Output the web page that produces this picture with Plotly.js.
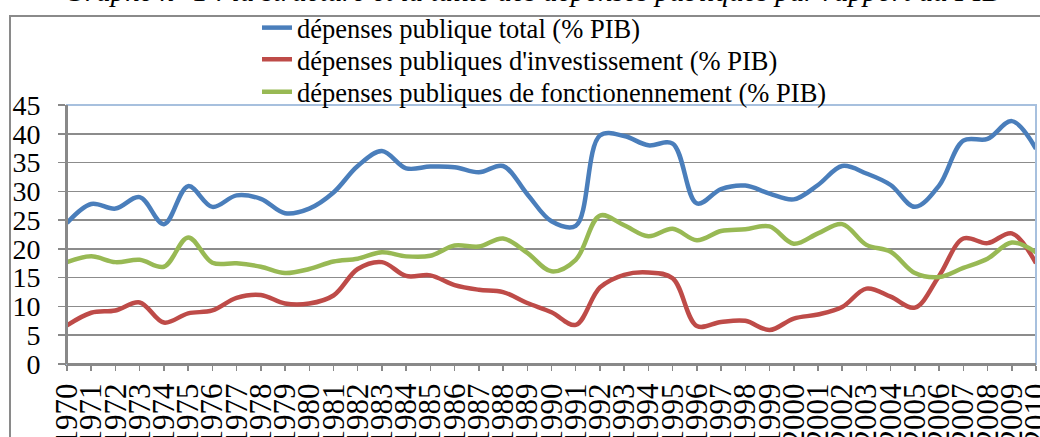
<!DOCTYPE html>
<html>
<head>
<meta charset="utf-8">
<script src="https://cdn.plot.ly/plotly-3.0.1.min.js"></script>
<style>
  html, body { margin: 0; padding: 0; background: #ffffff; }
  #chart { width: 1040px; height: 437px; }
</style>
</head>
<body>
<div id="chart"></div>
<script>
const years = [1970,1971,1972,1973,1974,1975,1976,1977,1978,1979,1980,1981,1982,1983,1984,1985,1986,1987,1988,1989,1990,1991,1992,1993,1994,1995,1996,1997,1998,1999,2000,2001,2002,2003,2004,2005,2006,2007,2008,2009,2010];

const depTotal = [24.5,27.8,27.0,29.0,24.3,30.9,27.3,29.3,28.7,26.2,27.0,29.8,34.4,37.0,34.0,34.3,34.2,33.3,34.4,29.5,24.8,24.0,39.7,39.6,38.0,38.3,27.9,30.4,31.0,29.6,28.6,31.1,34.4,33.1,31.1,27.3,31.0,38.8,39.1,42.2,37.4];

const depInvest = [6.7,8.9,9.3,10.7,7.2,8.8,9.3,11.5,12.0,10.5,10.5,11.9,16.5,17.7,15.3,15.4,13.7,12.9,12.5,10.6,9.0,6.8,13.3,15.5,15.9,14.9,6.6,7.3,7.5,5.9,7.9,8.6,9.9,13.1,11.7,9.8,15.3,21.8,21.0,22.7,17.5];

const depFonct = [17.7,18.7,17.7,18.1,16.9,22.0,17.6,17.5,16.9,15.8,16.5,17.8,18.3,19.4,18.7,18.8,20.6,20.4,21.8,19.3,16.1,18.1,25.8,24.1,22.2,23.5,21.5,23.1,23.4,23.9,20.9,22.7,24.3,20.7,19.5,15.8,15.1,16.7,18.3,21.1,19.4];

const seriesNames = [
  "dépenses publique total (% PIB)",
  "dépenses publiques d'investissement (% PIB)",
  "dépenses publiques de fonctionennement (% PIB)"
];
const yTicks = [0,5,10,15,20,25,30,35,40,45];
const titleText = "Graphe n° 1 : la structure et la taille des dépenses publiques par rapport au PIB";

const serif = 'Liberation Serif, Times New Roman, serif';
const W = 1040, H = 437;
const mL = 67, mR = 4, mT = 102, mB = 73;
const pw = W - mL - mR, ph = H - mT - mB;
const px2x = p => (p - mL) / pw;
const py2y = p => (H - mB - p) / ph;

function mk(y, name, color, leg) {
  return {
    x: years, y: y, name: name, type: 'scatter', mode: 'lines',
    line: {color: color, width: 4.5, shape: 'spline', smoothing: 1},
    hoverinfo: 'skip', legend: leg
  };
}

const data = [
  mk(depTotal, seriesNames[0], '#4A7EBB', 'legend'),
  mk(depInvest, seriesNames[1], '#BE4B48', 'legend2'),
  mk(depFonct, seriesNames[2], '#98B954', 'legend3')
];

function legAt(py) {
  return {
    x: px2x(257), y: py2y(py), xanchor: 'left', yanchor: 'middle',
    bgcolor: 'rgba(0,0,0,0)', borderwidth: 0,
    font: {family: serif, size: 26.5, color: '#000000'}
  };
}

const layout = {
  width: W, height: H,
  margin: {l: mL, r: mR, t: mT, b: mB, pad: 0},
  paper_bgcolor: '#ffffff',
  plot_bgcolor: '#ffffff',
  font: {family: serif, color: '#000000'},
  showlegend: true,
  legend: legAt(24),
  legend2: legAt(56),
  legend3: legAt(89),
  xaxis: {
    type: 'linear',
    range: [1970, 2010],
    tickmode: 'array', tickvals: years, ticktext: years.map(String),
    tickangle: -90,
    tickfont: {family: serif, size: 31, color: '#000000'},
    ticks: 'outside', ticklen: 5, tickwidth: 1.5, tickcolor: '#898989',
    ticklabelstandoff: 0,
    ticklabeloverflow: 'allow',
    showgrid: false, zeroline: false,
    showline: true, linecolor: '#898989', linewidth: 2,
    fixedrange: true
  },
  yaxis: {
    range: [0, 45],
    tickmode: 'array', tickvals: yTicks, ticktext: yTicks.map(String),
    tickfont: {family: serif, size: 28, color: '#000000'},
    ticks: 'outside', ticklen: 7, tickwidth: 1.5, tickcolor: '#898989',
    ticklabelstandoff: 12,
    ticklabeloverflow: 'allow',
    showgrid: true, gridcolor: '#8C8C8C', gridwidth: 1.5,
    zeroline: false,
    showline: true, linecolor: '#898989', linewidth: 2,
    fixedrange: true
  },
  shapes: [
    {type: 'rect', xref: 'paper', yref: 'paper',
     x0: 0, x1: 1, y0: 0, y1: 1,
     line: {color: '#A7C0DE', width: 2}, fillcolor: 'rgba(0,0,0,0)', layer: 'above'},
    {type: 'line', xref: 'paper', yref: 'paper',
     x0: 0, x1: 0, y0: 0, y1: 1,
     line: {color: '#898989', width: 2}, layer: 'above'},
    {type: 'line', xref: 'paper', yref: 'paper',
     x0: 0, x1: 1, y0: 0, y1: 0,
     line: {color: '#898989', width: 2}, layer: 'above'},
    {type: 'rect', xref: 'paper', yref: 'paper',
     x0: px2x(10), x1: px2x(1060), y0: py2y(460), y1: py2y(12),
     line: {color: '#8A8A8A', width: 2}, fillcolor: 'rgba(0,0,0,0)', layer: 'below'}
  ],
  annotations: [
    {text: '<i>' + titleText + '</i>', xref: 'paper', yref: 'paper',
     x: px2x(62), y: py2y(4.5), xanchor: 'left', yanchor: 'bottom',
     showarrow: false, font: {family: serif, size: 29, color: '#000000'}}
  ]
};

Plotly.newPlot('chart', data, layout, {displayModeBar: false, staticPlot: true});
</script>
</body>
</html>
